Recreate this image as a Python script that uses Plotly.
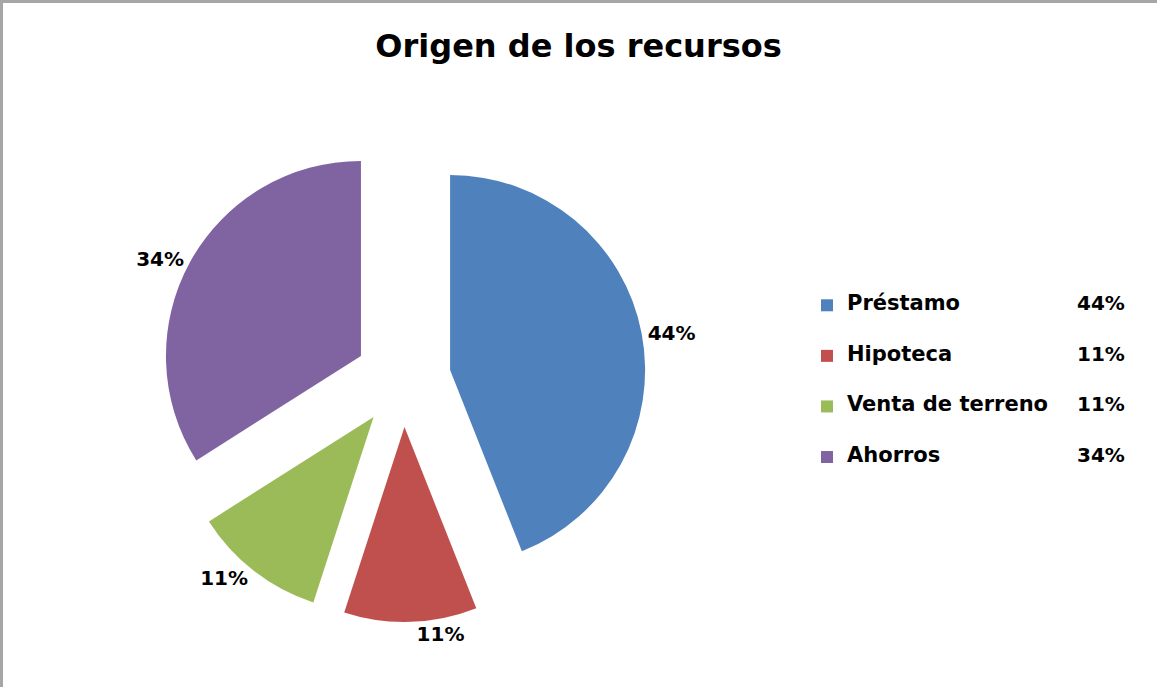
import plotly.graph_objects as go

# ---- data ----
categories = ["Préstamo", "Hipoteca", "Venta de terreno", "Ahorros"]
values = [44, 11, 11, 34]
colors = ["#4F81BD", "#C0504D", "#9BBB59", "#8064A2"]
title_text = "Origen de los recursos"

W, H = 1157, 687
FONT = "DejaVu Sans"

total = sum(values)
pct_text = [f"{round(v / total * 100)}%" for v in values]

# legend entries: pad with empty lines to widen the vertical spacing between items
legend_labels = [
    f"\u00a0<br><span style='font-size:21px'>{c}</span><br>\u00a0" for c in categories
]

fig = go.Figure()
fig.add_trace(go.Pie(
    labels=legend_labels,
    values=values,
    sort=False,
    direction="clockwise",
    rotation=0,
    pull=0.246,
    marker=dict(colors=colors, line=dict(width=0)),
    textinfo="percent",
    textposition="outside",
    texttemplate="%{percent:.0%}",
    textfont=dict(family=FONT, size=20, color="black", weight="bold"),
    domain=dict(x=[0.1383, 0.5583], y=[0.0946, 0.802]),
    hoverinfo="skip",
))

# border (left and top, as in the reference)
fig.add_shape(type="line", xref="paper", yref="paper", x0=0.0013, x1=0.0013, y0=0, y1=1,
              line=dict(color="#a6a6a6", width=3))
fig.add_shape(type="line", xref="paper", yref="paper", x0=0, x1=1, y0=1 - 1.5 / H, y1=1 - 1.5 / H,
              line=dict(color="#a6a6a6", width=3))

# percentages column next to the legend
item_y = [303, 354, 404, 455]
for yy, t in zip(item_y, pct_text):
    fig.add_annotation(x=1127 / W, y=1 - yy / H, xref="paper", yref="paper",
                       xanchor="right", yanchor="middle", showarrow=False, text=t,
                       font=dict(family=FONT, size=20, color="black", weight="bold"))

fig.update_layout(
    width=W, height=H,
    margin=dict(l=0, r=0, t=0, b=0, autoexpand=False),
    paper_bgcolor="white", plot_bgcolor="white",
    title=dict(text=title_text, x=0.5, xanchor="center", y=1 - 46 / H, yanchor="middle",
               yref="container",
               font=dict(family=FONT, size=32, color="black", weight="bold")),
    showlegend=True,
    legend=dict(x=807 / W, xanchor="left", y=1 - 275 / H, yanchor="top",
                font=dict(family=FONT, size=12.2, color="black", weight="bold"),
                bgcolor="rgba(0,0,0,0)", traceorder="normal"),
)

fig.write_html("out.html", config={"displayModeBar": False},
               post_script="document.body.style.margin='0';document.body.style.overflow='hidden';")
